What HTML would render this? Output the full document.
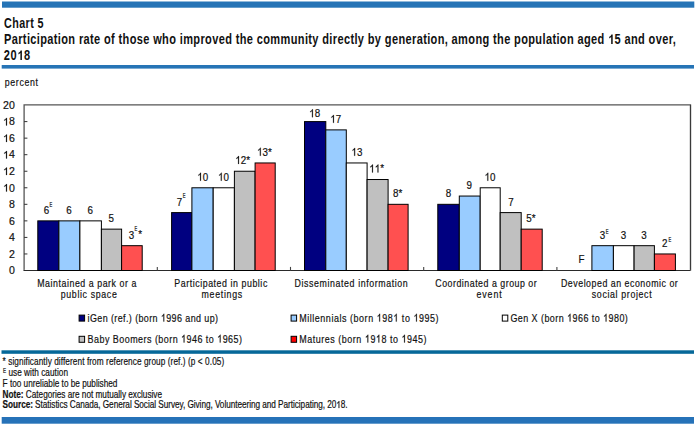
<!DOCTYPE html>
<html><head><meta charset="utf-8"><style>
html,body{margin:0;padding:0;background:#fff;}
body{width:696px;height:426px;overflow:hidden;}
svg{display:block;font-family:"Liberation Sans",sans-serif;}
text{fill:#111;stroke:#111;stroke-width:0.2px;}
g.ttl text{stroke:none;}
path.or{fill:#111;stroke:#111;stroke-width:0.2px;vector-effect:non-scaling-stroke;}
path.ob{fill:#111;}
tspan.h{fill:none;stroke:none;}
</style></head><body>
<svg width="696" height="426" viewBox="0 0 696 426">
<rect x="2" y="1.5" width="692.3" height="6.2" fill="#2674b6"/>
<g class="ttl" font-weight="bold" font-size="13.8">
<text transform="translate(4,27.6) scale(0.78,1)" textLength="50.77" lengthAdjust="spacing">Chart 5</text>
<text transform="translate(4,43.9) scale(0.8,1)" textLength="839.75" lengthAdjust="spacing">Participation rate of those who improved the community directly by generation, among the population aged <tspan class="h">1</tspan>5 and over,</text>
<text transform="translate(3.8,59.9) scale(0.8,1)" textLength="33.00" lengthAdjust="spacing">20<tspan class="h">1</tspan>8</text>
</g>
<rect x="1.7" y="65" width="692.3" height="3.6" fill="#2674b6"/>
<g font-size="11"><text transform="translate(4.8,86.3) scale(0.8,1)" textLength="41.50" lengthAdjust="spacing">percent</text></g>
<path d="M24.1 270.5V104.9H690.5V270.5" fill="none" stroke="#555" stroke-width="1.3"/>
<line x1="690.5" x2="690.5" y1="104.9" y2="271" stroke="#3a3a3a" stroke-width="1.1"/>
<rect x="23.5" y="269.9" width="667" height="1.2" fill="#fff"/>
<line x1="23.5" x2="690.5" y1="270.5" y2="270.5" stroke="#2a2a2a" stroke-width="1"/>
<line x1="24.1" x2="27.4" y1="253.96" y2="253.96" stroke="#333" stroke-width="1"/>
<line x1="24.1" x2="27.4" y1="237.41" y2="237.41" stroke="#333" stroke-width="1"/>
<line x1="24.1" x2="27.4" y1="220.87" y2="220.87" stroke="#333" stroke-width="1"/>
<line x1="24.1" x2="27.4" y1="204.32" y2="204.32" stroke="#333" stroke-width="1"/>
<line x1="24.1" x2="27.4" y1="187.78" y2="187.78" stroke="#333" stroke-width="1"/>
<line x1="24.1" x2="27.4" y1="171.24" y2="171.24" stroke="#333" stroke-width="1"/>
<line x1="24.1" x2="27.4" y1="154.69" y2="154.69" stroke="#333" stroke-width="1"/>
<line x1="24.1" x2="27.4" y1="138.15" y2="138.15" stroke="#333" stroke-width="1"/>
<line x1="24.1" x2="27.4" y1="121.60" y2="121.60" stroke="#333" stroke-width="1"/>
<line x1="157.30" x2="157.30" y1="266.9" y2="270.5" stroke="#444" stroke-width="1.1"/>
<line x1="290.50" x2="290.50" y1="266.9" y2="270.5" stroke="#444" stroke-width="1.1"/>
<line x1="423.70" x2="423.70" y1="266.9" y2="270.5" stroke="#444" stroke-width="1.1"/>
<line x1="556.90" x2="556.90" y1="266.9" y2="270.5" stroke="#444" stroke-width="1.1"/>
<text transform="translate(14.8,274.30) scale(0.97,1)" text-anchor="end" font-size="10.9">0</text>
<text transform="translate(14.8,257.76) scale(0.97,1)" text-anchor="end" font-size="10.9">2</text>
<text transform="translate(14.8,241.21) scale(0.97,1)" text-anchor="end" font-size="10.9">4</text>
<text transform="translate(14.8,224.67) scale(0.97,1)" text-anchor="end" font-size="10.9">6</text>
<text transform="translate(14.8,208.12) scale(0.97,1)" text-anchor="end" font-size="10.9">8</text>
<text transform="translate(14.8,191.58) scale(0.97,1)" text-anchor="end" font-size="10.9"><tspan class="h">1</tspan>0</text>
<text transform="translate(14.8,175.04) scale(0.97,1)" text-anchor="end" font-size="10.9"><tspan class="h">1</tspan>2</text>
<text transform="translate(14.8,158.49) scale(0.97,1)" text-anchor="end" font-size="10.9"><tspan class="h">1</tspan>4</text>
<text transform="translate(14.8,141.95) scale(0.97,1)" text-anchor="end" font-size="10.9"><tspan class="h">1</tspan>6</text>
<text transform="translate(14.8,125.40) scale(0.97,1)" text-anchor="end" font-size="10.9"><tspan class="h">1</tspan>8</text>
<text transform="translate(14.8,108.86) scale(0.97,1)" text-anchor="end" font-size="10.9">20</text>
<rect x="37.80" y="220.87" width="21.10" height="49.63" fill="#000080" stroke="#000" stroke-width="1"/>
<rect x="58.90" y="220.87" width="21.00" height="49.63" fill="#99ccff" stroke="#000" stroke-width="1"/>
<rect x="79.90" y="220.87" width="21.50" height="49.63" fill="#ffffff" stroke="#000" stroke-width="1"/>
<rect x="101.40" y="229.14" width="20.20" height="41.36" fill="#c0c0c0" stroke="#000" stroke-width="1"/>
<rect x="121.60" y="245.68" width="20.60" height="24.82" fill="#ff5050" stroke="#000" stroke-width="1"/>
<rect x="171.60" y="212.60" width="20.30" height="57.90" fill="#000080" stroke="#000" stroke-width="1"/>
<rect x="191.90" y="187.78" width="21.30" height="82.72" fill="#99ccff" stroke="#000" stroke-width="1"/>
<rect x="213.20" y="187.78" width="21.20" height="82.72" fill="#ffffff" stroke="#000" stroke-width="1"/>
<rect x="234.40" y="171.24" width="20.70" height="99.26" fill="#c0c0c0" stroke="#000" stroke-width="1"/>
<rect x="255.10" y="162.96" width="20.10" height="107.54" fill="#ff5050" stroke="#000" stroke-width="1"/>
<rect x="304.50" y="121.60" width="21.30" height="148.90" fill="#000080" stroke="#000" stroke-width="1"/>
<rect x="325.80" y="129.88" width="20.50" height="140.62" fill="#99ccff" stroke="#000" stroke-width="1"/>
<rect x="346.30" y="162.96" width="20.80" height="107.54" fill="#ffffff" stroke="#000" stroke-width="1"/>
<rect x="367.10" y="179.51" width="21.00" height="90.99" fill="#c0c0c0" stroke="#000" stroke-width="1"/>
<rect x="388.10" y="204.32" width="20.00" height="66.18" fill="#ff5050" stroke="#000" stroke-width="1"/>
<rect x="437.80" y="204.32" width="21.50" height="66.18" fill="#000080" stroke="#000" stroke-width="1"/>
<rect x="459.30" y="196.05" width="20.90" height="74.45" fill="#99ccff" stroke="#000" stroke-width="1"/>
<rect x="480.20" y="187.78" width="20.00" height="82.72" fill="#ffffff" stroke="#000" stroke-width="1"/>
<rect x="500.20" y="212.60" width="21.00" height="57.90" fill="#c0c0c0" stroke="#000" stroke-width="1"/>
<rect x="521.20" y="229.14" width="21.00" height="41.36" fill="#ff5050" stroke="#000" stroke-width="1"/>
<rect x="591.90" y="245.68" width="21.50" height="24.82" fill="#99ccff" stroke="#000" stroke-width="1"/>
<rect x="613.40" y="245.68" width="20.70" height="24.82" fill="#ffffff" stroke="#000" stroke-width="1"/>
<rect x="634.10" y="245.68" width="20.30" height="24.82" fill="#c0c0c0" stroke="#000" stroke-width="1"/>
<rect x="654.40" y="253.96" width="21.00" height="16.54" fill="#ff5050" stroke="#000" stroke-width="1"/>
<text class="lb" transform="translate(46.35,214.20) scale(0.86,1)" text-anchor="middle" font-size="11.4">6</text>
<text class="lb" transform="translate(68.85,214.20) scale(0.86,1)" text-anchor="middle" font-size="11.4">6</text>
<text class="lb" transform="translate(90.15,214.20) scale(0.86,1)" text-anchor="middle" font-size="11.4">6</text>
<text class="lb" transform="translate(111.10,222.10) scale(0.86,1)" text-anchor="middle" font-size="11.4">5</text>
<text class="lb" transform="translate(131.40,238.80) scale(0.86,1)" text-anchor="middle" font-size="11.4">3</text>
<text class="lb" transform="translate(179.40,205.50) scale(0.86,1)" text-anchor="middle" font-size="11.4">7</text>
<text class="lb" transform="translate(202.80,180.70) scale(0.86,1)" text-anchor="middle" font-size="11.4"><tspan class="h">1</tspan>0</text>
<text class="lb" transform="translate(223.50,180.70) scale(0.86,1)" text-anchor="middle" font-size="11.4"><tspan class="h">1</tspan>0</text>
<text class="lb" transform="translate(242.70,163.90) scale(0.86,1)" text-anchor="middle" font-size="11.4"><tspan class="h">1</tspan>2*</text>
<text class="lb" transform="translate(264.45,155.70) scale(0.86,1)" text-anchor="middle" font-size="11.4"><tspan class="h">1</tspan>3*</text>
<text class="lb" transform="translate(314.65,117.20) scale(0.86,1)" text-anchor="middle" font-size="11.4"><tspan class="h">1</tspan>8</text>
<text class="lb" transform="translate(335.70,122.80) scale(0.86,1)" text-anchor="middle" font-size="11.4"><tspan class="h">1</tspan>7</text>
<text class="lb" transform="translate(356.90,155.80) scale(0.86,1)" text-anchor="middle" font-size="11.4"><tspan class="h">1</tspan>3</text>
<text class="lb" transform="translate(376.65,172.40) scale(0.86,1)" text-anchor="middle" font-size="11.4"><tspan class="h">1</tspan><tspan class="h">1</tspan>*</text>
<text class="lb" transform="translate(397.75,197.00) scale(0.86,1)" text-anchor="middle" font-size="11.4">8*</text>
<text class="lb" transform="translate(448.40,197.00) scale(0.86,1)" text-anchor="middle" font-size="11.4">8</text>
<text class="lb" transform="translate(469.30,188.80) scale(0.86,1)" text-anchor="middle" font-size="11.4">9</text>
<text class="lb" transform="translate(490.05,180.70) scale(0.86,1)" text-anchor="middle" font-size="11.4"><tspan class="h">1</tspan>0</text>
<text class="lb" transform="translate(510.90,205.50) scale(0.86,1)" text-anchor="middle" font-size="11.4">7</text>
<text class="lb" transform="translate(530.95,222.10) scale(0.86,1)" text-anchor="middle" font-size="11.4">5*</text>
<text class="lb" transform="translate(581.60,263.00) scale(0.86,1)" text-anchor="middle" font-size="11.4">F</text>
<text class="lb" transform="translate(602.40,238.80) scale(0.86,1)" text-anchor="middle" font-size="11.4">3</text>
<text class="lb" transform="translate(623.50,238.60) scale(0.86,1)" text-anchor="middle" font-size="11.4">3</text>
<text class="lb" transform="translate(643.90,238.60) scale(0.86,1)" text-anchor="middle" font-size="11.4">3</text>
<text class="lb" transform="translate(664.70,246.80) scale(0.86,1)" text-anchor="middle" font-size="11.4">2</text>
<text class="lb" transform="translate(50.90,207.10) scale(0.62,1)" text-anchor="middle" font-size="6.6">E</text>
<text class="lb" transform="translate(135.80,231.00) scale(0.62,1)" text-anchor="middle" font-size="6.6">E</text>
<text class="lb" transform="translate(184.15,198.10) scale(0.62,1)" text-anchor="middle" font-size="6.6">E</text>
<text class="lb" transform="translate(607.10,234.40) scale(0.62,1)" text-anchor="middle" font-size="6.6">E</text>
<text class="lb" transform="translate(669.75,242.40) scale(0.62,1)" text-anchor="middle" font-size="6.6">E</text>
<text class="lb" transform="translate(140.25,238.20) scale(0.86,1)" text-anchor="middle" font-size="11.4">*</text>
<g font-size="11">
<text transform="translate(37.2,287) scale(0.8,1)" textLength="124.00" lengthAdjust="spacing">Maintained a park or a</text>
<text transform="translate(60.8,297.8) scale(0.8,1)" textLength="70.00" lengthAdjust="spacing">public space</text>
<text transform="translate(174.3,287) scale(0.8,1)" textLength="116.25" lengthAdjust="spacing">Participated in public</text>
<text transform="translate(201.5,297.8) scale(0.8,1)" textLength="50.88" lengthAdjust="spacing">meetings</text>
<text transform="translate(294.6,287) scale(0.8,1)" textLength="141.37" lengthAdjust="spacing">Disseminated information</text>
<text transform="translate(435.3,287) scale(0.8,1)" textLength="126.75" lengthAdjust="spacing">Coordinated a group or</text>
<text transform="translate(476.4,297.8) scale(0.8,1)" textLength="31.62" lengthAdjust="spacing">event</text>
<text transform="translate(561,287) scale(0.8,1)" textLength="146.00" lengthAdjust="spacing">Developed an economic or</text>
<text transform="translate(591.8,297.8) scale(0.8,1)" textLength="74.75" lengthAdjust="spacing">social project</text>
</g>
<g font-size="11.2">
<rect x="79.1" y="315.1" width="5.5" height="6" fill="#000080" stroke="#000" stroke-width="1"/>
<text transform="translate(87.6,321.6) scale(0.8,1)" textLength="163.00" lengthAdjust="spacing">iGen (ref.) (born <tspan class="h">1</tspan>996 and up)</text>
<rect x="291.1" y="315.1" width="5.5" height="6" fill="#99ccff" stroke="#000" stroke-width="1"/>
<text transform="translate(299.2,321.6) scale(0.8,1)" textLength="174.25" lengthAdjust="spacing">Millennials (born <tspan class="h">1</tspan>98<tspan class="h">1</tspan> to <tspan class="h">1</tspan>995)</text>
<rect x="502.3" y="315.1" width="5.5" height="6" fill="#fff" stroke="#000" stroke-width="1"/>
<text transform="translate(510.4,321.6) scale(0.8,1)" textLength="146.75" lengthAdjust="spacing">Gen X (born <tspan class="h">1</tspan>966 to <tspan class="h">1</tspan>980)</text>
<rect x="79.1" y="336.3" width="5.5" height="6" fill="#c0c0c0" stroke="#000" stroke-width="1"/>
<text transform="translate(87.6,342.5) scale(0.8,1)" textLength="193.00" lengthAdjust="spacing">Baby Boomers (born <tspan class="h">1</tspan>946 to <tspan class="h">1</tspan>965)</text>
<rect x="291.1" y="336.3" width="5.5" height="6" fill="#ff0000" stroke="#000" stroke-width="1"/>
<text transform="translate(299.2,342.5) scale(0.8,1)" textLength="159.25" lengthAdjust="spacing">Matures (born <tspan class="h">1</tspan>9<tspan class="h">1</tspan>8 to <tspan class="h">1</tspan>945)</text>
</g>
<rect x="1.5" y="350.3" width="692.5" height="3.5" fill="#066899"/>
<g font-size="10.3">
<text transform="translate(2.6,365.0) scale(0.8,1)" textLength="277.00" lengthAdjust="spacing">* significantly different from reference group (ref.) (p &lt; 0.05)</text>
<text x="2.9" y="372.6" font-size="6.4" transform="translate(2.9,0) scale(0.72,1) translate(-2.9,0)">E</text>
<text transform="translate(8.4,375.5) scale(0.8,1)" textLength="74.50" lengthAdjust="spacing">use with caution</text>
<text transform="translate(2.6,386.5) scale(0.8,1)" textLength="143.50" lengthAdjust="spacing">F too unreliable to be published</text>
<text transform="translate(2.6,397.9) scale(0.8,1)" textLength="199.25" lengthAdjust="spacing"><tspan font-weight="bold">Note:</tspan> Categories are not mutually exclusive</text>
<text transform="translate(2.6,408.1) scale(0.8,1)" textLength="431.25" lengthAdjust="spacing"><tspan font-weight="bold">Source:</tspan> Statistics Canada, General Social Survey, Giving, Volunteering and Participating, 20<tspan class="h">1</tspan>8.</text>
</g>
<rect x="1.7" y="417" width="692.3" height="6.7" fill="#2672b8"/>
<g transform="translate(4,43.9) scale(0.8,1)"><path class="ob" transform="translate(755.10,0.00) scale(0.006738,-0.006469)" d="M855 0L574 0L574 1059Q420 915 211 846L211 1101Q321 1137 438 1227.5Q555 1318 609 1472L855 1472Z"/></g>
<g transform="translate(3.8,59.9) scale(0.8,1)"><path class="ob" transform="translate(16.88,0.00) scale(0.006738,-0.006469)" d="M855 0L574 0L574 1059Q420 915 211 846L211 1101Q321 1137 438 1227.5Q555 1318 609 1472L855 1472Z"/></g>
<g transform="translate(14.8,191.58) scale(0.97,1)"><path class="or" transform="translate(-12.12,0.00) scale(0.005322,-0.005109)" d="M763 0L583 0L583 1147Q518 1085 410.5 1022Q303 959 222 929L222 1103Q367 1171 482.5 1273.5Q598 1376 646 1472L763 1472Z"/></g>
<g transform="translate(14.8,175.04) scale(0.97,1)"><path class="or" transform="translate(-12.12,0.00) scale(0.005322,-0.005109)" d="M763 0L583 0L583 1147Q518 1085 410.5 1022Q303 959 222 929L222 1103Q367 1171 482.5 1273.5Q598 1376 646 1472L763 1472Z"/></g>
<g transform="translate(14.8,158.49) scale(0.97,1)"><path class="or" transform="translate(-12.12,0.00) scale(0.005322,-0.005109)" d="M763 0L583 0L583 1147Q518 1085 410.5 1022Q303 959 222 929L222 1103Q367 1171 482.5 1273.5Q598 1376 646 1472L763 1472Z"/></g>
<g transform="translate(14.8,141.95) scale(0.97,1)"><path class="or" transform="translate(-12.12,0.00) scale(0.005322,-0.005109)" d="M763 0L583 0L583 1147Q518 1085 410.5 1022Q303 959 222 929L222 1103Q367 1171 482.5 1273.5Q598 1376 646 1472L763 1472Z"/></g>
<g transform="translate(14.8,125.40) scale(0.97,1)"><path class="or" transform="translate(-12.12,0.00) scale(0.005322,-0.005109)" d="M763 0L583 0L583 1147Q518 1085 410.5 1022Q303 959 222 929L222 1103Q367 1171 482.5 1273.5Q598 1376 646 1472L763 1472Z"/></g>
<g transform="translate(202.80,180.70) scale(0.86,1)"><path class="or" transform="translate(-6.35,0.00) scale(0.005566,-0.005344)" d="M763 0L583 0L583 1147Q518 1085 410.5 1022Q303 959 222 929L222 1103Q367 1171 482.5 1273.5Q598 1376 646 1472L763 1472Z"/></g>
<g transform="translate(223.50,180.70) scale(0.86,1)"><path class="or" transform="translate(-6.35,0.00) scale(0.005566,-0.005344)" d="M763 0L583 0L583 1147Q518 1085 410.5 1022Q303 959 222 929L222 1103Q367 1171 482.5 1273.5Q598 1376 646 1472L763 1472Z"/></g>
<g transform="translate(242.70,163.90) scale(0.86,1)"><path class="or" transform="translate(-8.56,0.00) scale(0.005566,-0.005344)" d="M763 0L583 0L583 1147Q518 1085 410.5 1022Q303 959 222 929L222 1103Q367 1171 482.5 1273.5Q598 1376 646 1472L763 1472Z"/></g>
<g transform="translate(264.45,155.70) scale(0.86,1)"><path class="or" transform="translate(-8.56,0.00) scale(0.005566,-0.005344)" d="M763 0L583 0L583 1147Q518 1085 410.5 1022Q303 959 222 929L222 1103Q367 1171 482.5 1273.5Q598 1376 646 1472L763 1472Z"/></g>
<g transform="translate(314.65,117.20) scale(0.86,1)"><path class="or" transform="translate(-6.35,0.00) scale(0.005566,-0.005344)" d="M763 0L583 0L583 1147Q518 1085 410.5 1022Q303 959 222 929L222 1103Q367 1171 482.5 1273.5Q598 1376 646 1472L763 1472Z"/></g>
<g transform="translate(335.70,122.80) scale(0.86,1)"><path class="or" transform="translate(-6.35,0.00) scale(0.005566,-0.005344)" d="M763 0L583 0L583 1147Q518 1085 410.5 1022Q303 959 222 929L222 1103Q367 1171 482.5 1273.5Q598 1376 646 1472L763 1472Z"/></g>
<g transform="translate(356.90,155.80) scale(0.86,1)"><path class="or" transform="translate(-6.35,0.00) scale(0.005566,-0.005344)" d="M763 0L583 0L583 1147Q518 1085 410.5 1022Q303 959 222 929L222 1103Q367 1171 482.5 1273.5Q598 1376 646 1472L763 1472Z"/></g>
<g transform="translate(376.65,172.40) scale(0.86,1)"><path class="or" transform="translate(-8.57,0.00) scale(0.005566,-0.005344)" d="M763 0L583 0L583 1147Q518 1085 410.5 1022Q303 959 222 929L222 1103Q367 1171 482.5 1273.5Q598 1376 646 1472L763 1472Z"/><path class="or" transform="translate(-2.22,0.00) scale(0.005566,-0.005344)" d="M763 0L583 0L583 1147Q518 1085 410.5 1022Q303 959 222 929L222 1103Q367 1171 482.5 1273.5Q598 1376 646 1472L763 1472Z"/></g>
<g transform="translate(490.05,180.70) scale(0.86,1)"><path class="or" transform="translate(-6.35,0.00) scale(0.005566,-0.005344)" d="M763 0L583 0L583 1147Q518 1085 410.5 1022Q303 959 222 929L222 1103Q367 1171 482.5 1273.5Q598 1376 646 1472L763 1472Z"/></g>
<g transform="translate(87.6,321.6) scale(0.8,1)"><path class="or" transform="translate(91.60,0.00) scale(0.005469,-0.005250)" d="M763 0L583 0L583 1147Q518 1085 410.5 1022Q303 959 222 929L222 1103Q367 1171 482.5 1273.5Q598 1376 646 1472L763 1472Z"/></g>
<g transform="translate(299.2,321.6) scale(0.8,1)"><path class="or" transform="translate(96.91,0.00) scale(0.005469,-0.005250)" d="M763 0L583 0L583 1147Q518 1085 410.5 1022Q303 959 222 929L222 1103Q367 1171 482.5 1273.5Q598 1376 646 1472L763 1472Z"/><path class="or" transform="translate(117.64,0.00) scale(0.005469,-0.005250)" d="M763 0L583 0L583 1147Q518 1085 410.5 1022Q303 959 222 929L222 1103Q367 1171 482.5 1273.5Q598 1376 646 1472L763 1472Z"/><path class="or" transform="translate(142.88,0.00) scale(0.005469,-0.005250)" d="M763 0L583 0L583 1147Q518 1085 410.5 1022Q303 959 222 929L222 1103Q367 1171 482.5 1273.5Q598 1376 646 1472L763 1472Z"/></g>
<g transform="translate(510.4,321.6) scale(0.8,1)"><path class="or" transform="translate(70.87,0.00) scale(0.005469,-0.005250)" d="M763 0L583 0L583 1147Q518 1085 410.5 1022Q303 959 222 929L222 1103Q367 1171 482.5 1273.5Q598 1376 646 1472L763 1472Z"/><path class="or" transform="translate(115.87,0.00) scale(0.005469,-0.005250)" d="M763 0L583 0L583 1147Q518 1085 410.5 1022Q303 959 222 929L222 1103Q367 1171 482.5 1273.5Q598 1376 646 1472L763 1472Z"/></g>
<g transform="translate(87.6,342.5) scale(0.8,1)"><path class="or" transform="translate(116.87,0.00) scale(0.005469,-0.005250)" d="M763 0L583 0L583 1147Q518 1085 410.5 1022Q303 959 222 929L222 1103Q367 1171 482.5 1273.5Q598 1376 646 1472L763 1472Z"/><path class="or" transform="translate(162.03,0.00) scale(0.005469,-0.005250)" d="M763 0L583 0L583 1147Q518 1085 410.5 1022Q303 959 222 929L222 1103Q367 1171 482.5 1273.5Q598 1376 646 1472L763 1472Z"/></g>
<g transform="translate(299.2,342.5) scale(0.8,1)"><path class="or" transform="translate(82.13,0.00) scale(0.005469,-0.005250)" d="M763 0L583 0L583 1147Q518 1085 410.5 1022Q303 959 222 929L222 1103Q367 1171 482.5 1273.5Q598 1376 646 1472L763 1472Z"/><path class="or" transform="translate(95.91,0.00) scale(0.005469,-0.005250)" d="M763 0L583 0L583 1147Q518 1085 410.5 1022Q303 959 222 929L222 1103Q367 1171 482.5 1273.5Q598 1376 646 1472L763 1472Z"/><path class="or" transform="translate(127.95,0.00) scale(0.005469,-0.005250)" d="M763 0L583 0L583 1147Q518 1085 410.5 1022Q303 959 222 929L222 1103Q367 1171 482.5 1273.5Q598 1376 646 1472L763 1472Z"/></g>
<g transform="translate(2.6,408.1) scale(0.8,1)"><path class="or" transform="translate(417.07,0.00) scale(0.005029,-0.004828)" d="M763 0L583 0L583 1147Q518 1085 410.5 1022Q303 959 222 929L222 1103Q367 1171 482.5 1273.5Q598 1376 646 1472L763 1472Z"/></g>
</svg>
</body></html>
